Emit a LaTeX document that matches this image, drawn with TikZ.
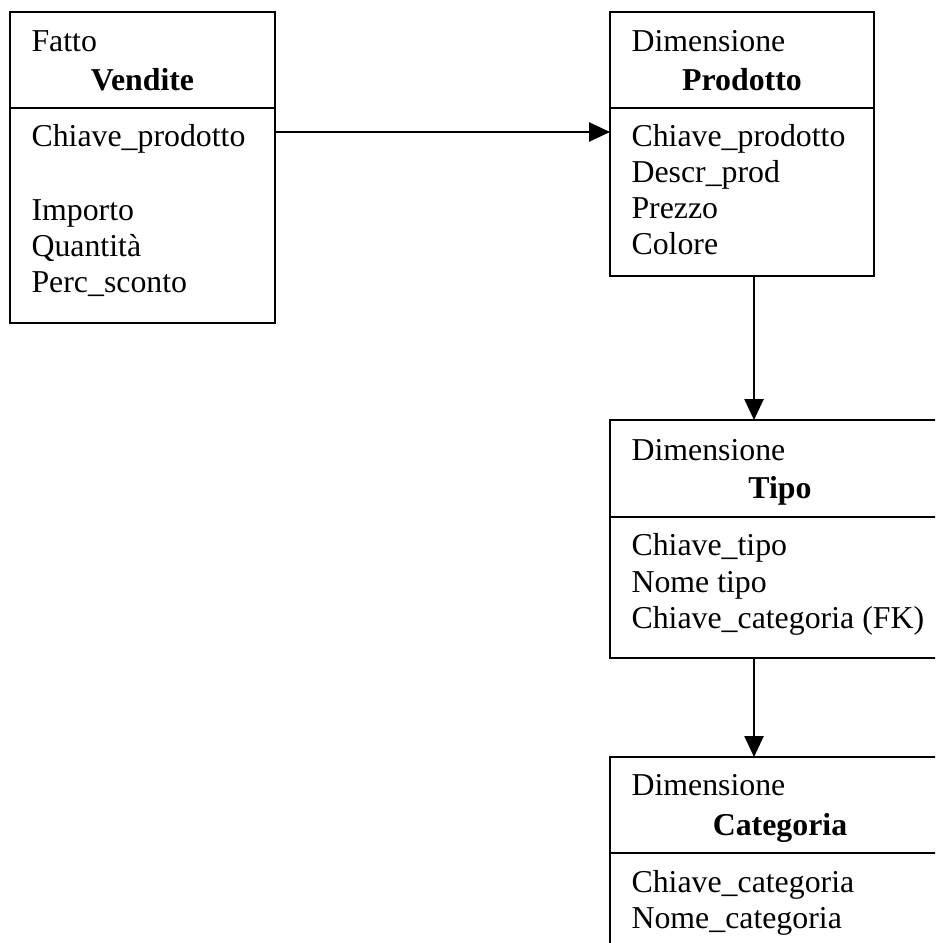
\documentclass[tikz,border=0pt]{standalone}
\usepackage{fontspec}
\setmainfont{Liberation Serif}
\usetikzlibrary{arrows.meta}
\newcommand{\pxu}{0.377pt}
\begin{document}
\fontsize{12pt}{13.8pt}\selectfont
\begin{tikzpicture}[x=\pxu, y=-\pxu,
  tbl/.style={draw, line width=0.8pt, rectangle, anchor=north west,
    inner sep=0pt, outer sep=0pt},
  rule/.style={line width=0.8pt},
  field/.style={anchor=base west, inner sep=0pt},
  title/.style={anchor=base, inner sep=0pt, font=\bfseries},
  link/.style={line width=0.8pt, -{Triangle[length=7.9pt, width=7.2pt]}}]
  \useasboundingbox (0,0) rectangle (935,943);
  \clip (0,0) rectangle (935,943);

  % fact table
  \node[tbl, minimum width={265*\pxu}, minimum height={311*\pxu}] (vend) at (10,12) {};
  \coordinate (vdiv) at (0,108);
  \draw[rule] (vend.west |- vdiv) -- (vend.east |- vdiv);
  \node[field] (vk) at (31,52) {Fatto};
  \node[title] (vt) at (142.5,91) {Vendite};
  \node[field] (v1) at (31,147) {Chiave\_prodotto};
  \node[field] (v2) at (31,221) {Importo};
  \node[field] (v3) at (31,257) {Quantità};
  \node[field] (v4) at (31,293) {Perc\_sconto};

  % product dimension
  \node[tbl, minimum width={264*\pxu}, minimum height={264*\pxu}] (prod) at (610,12) {};
  \draw[rule] (prod.west |- vdiv) -- (prod.east |- vdiv);
  \node[field] (pk) at (631,52) {Dimensione};
  \node[title] (pt) at (742,91) {Prodotto};
  \node[field] (p1) at (631,147) {Chiave\_prodotto};
  \node[field] (p2) at (631,183) {Descr\_prod};
  \node[field] (p3) at (631,219) {Prezzo};
  \node[field] (p4) at (631,255) {Colore};

  % type dimension
  \node[tbl, minimum width={340*\pxu}, minimum height={238*\pxu}] (tipo) at (610,420) {};
  \coordinate (tdiv) at (0,517);
  \draw[rule] (tipo.west |- tdiv) -- (tipo.east |- tdiv);
  \node[field] (tk) at (631,460) {Dimensione};
  \node[title] (tt) at (780,498) {Tipo};
  \node[field] (t1) at (631,555) {Chiave\_tipo};
  \node[field] (t2) at (631,592) {Nome tipo};
  \node[field] (t3) at (631,628) {Chiave\_categoria (FK)};

  % category dimension
  \node[tbl, minimum width={340*\pxu}, minimum height={240*\pxu}] (cat) at (610,757) {};
  \coordinate (cdiv) at (0,853);
  \draw[rule] (cat.west |- cdiv) -- (cat.east |- cdiv);
  \node[field] (ck) at (631,795) {Dimensione};
  \node[title] (ct) at (780,835) {Categoria};
  \node[field] (c1) at (631,892) {Chiave\_categoria};
  \node[field] (c2) at (631,928) {Nome\_categoria};

  % links
  \coordinate (row) at (0,132);
  \coordinate (col) at (754,0);
  \draw[link] (vend.east |- row) -- (prod.west |- row);
  \draw[link] (prod.south -| col) -- (tipo.north -| col);
  \draw[link] (tipo.south -| col) -- (cat.north -| col);
\end{tikzpicture}
\end{document}
